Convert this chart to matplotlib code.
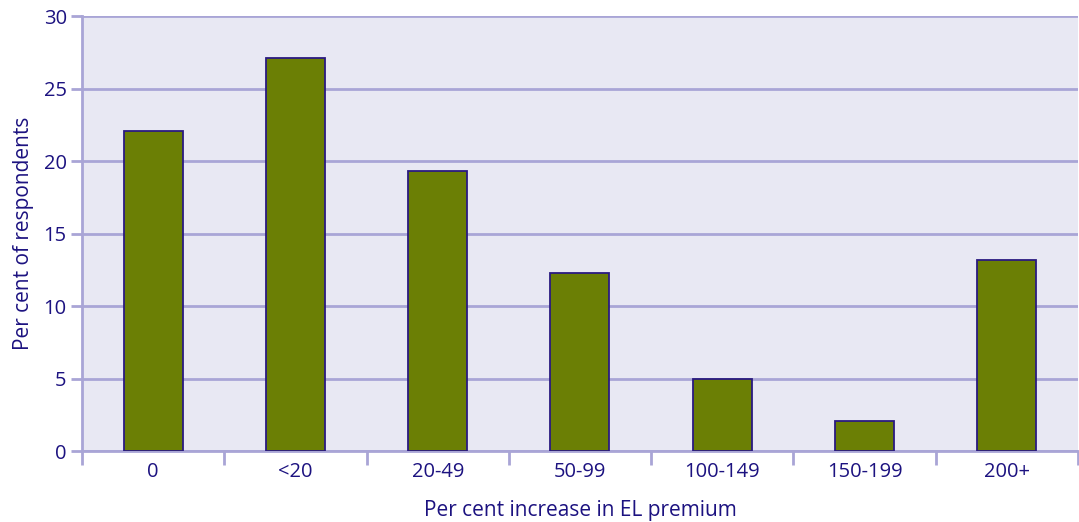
import matplotlib.pyplot as plt
import numpy as np

# categories and values
categories = ['0', '<20', '20-49', '50-99', '100-149', '150-199', '200+']
percent = [22.1, 27.1, 19.3, 12.3, 5.0, 2.1, 13.2]

text_col = '#1c1280'
grid_col = '#a9a5d6'

plt.rcParams['font.family'] = ['Open Sans', 'DejaVu Sans']

fig = plt.figure(figsize=(10.79, 5.22), dpi=100)
ax = fig.add_axes([0.076, 0.136, 0.923, 0.833])
ax.set_facecolor('#e8e8f3')

x = np.arange(len(categories))
ax.bar(x, percent, width=0.415, color='#6b7f05', edgecolor='#2a1a80',
       linewidth=1.3, zorder=3)

ax.set_xlim(-0.5, len(categories) - 0.5)
ax.set_ylim(0, 30)
ax.set_yticks(range(0, 31, 5))
ax.set_xticks(x)
ax.set_xticklabels(categories)
# tick marks between categories
ax.set_xticks(np.arange(-0.5, len(categories), 1.0), minor=True)

ax.grid(axis='y', color=grid_col, linewidth=2, zorder=1)
ax.tick_params(axis='y', colors=grid_col, labelcolor=text_col, labelsize=14.5,
               length=8, width=2, pad=3)
ax.tick_params(axis='x', which='major', length=0, labelcolor=text_col,
               labelsize=14.5, pad=8)
ax.tick_params(axis='x', which='minor', length=10, width=2, color=grid_col)

for s in ['top', 'right']:
    ax.spines[s].set_visible(False)
for s in ['left', 'bottom']:
    ax.spines[s].set_color(grid_col)
    ax.spines[s].set_linewidth(2)

ax.set_xlabel('Per cent increase in EL premium', color=text_col, fontsize=15,
              labelpad=13)
ax.set_ylabel('Per cent of respondents', color=text_col, fontsize=15,
              labelpad=7)

plt.savefig('out.png', dpi=100)
